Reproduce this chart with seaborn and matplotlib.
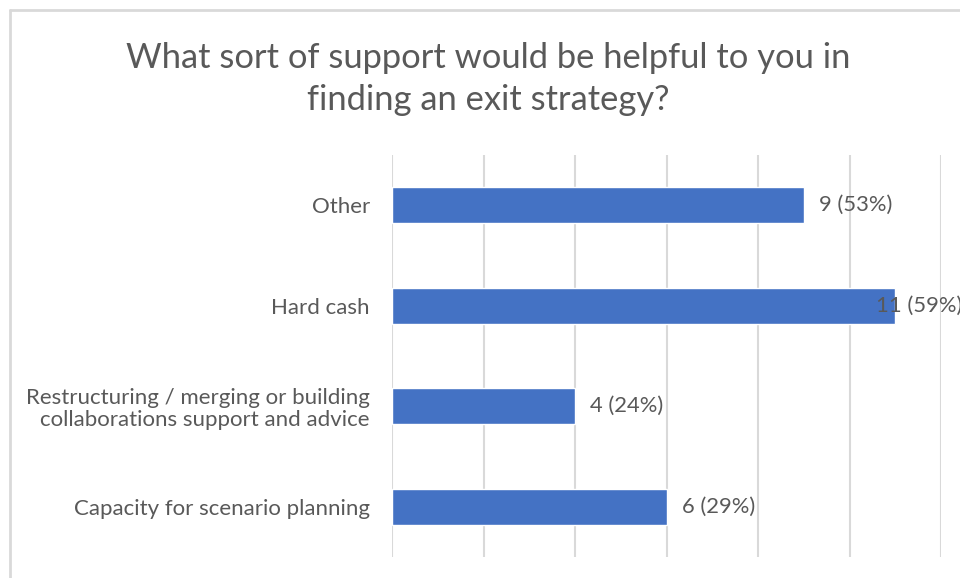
import matplotlib
matplotlib.use("Agg")
import matplotlib.pyplot as plt
from matplotlib.lines import Line2D
import seaborn as sns
import pandas as pd

categories = [
    "Other",
    "Hard cash",
    "Restructuring / merging or building\ncollaborations support and advice",
    "Capacity for scenario planning",
]
counts = [9, 11, 4, 6]
percents = [53, 59, 24, 29]
title = "What sort of support would be helpful to you in\nfinding an exit strategy?"

BAR = "#4472C4"
TEXT = "#595959"
GRID = "#D9D9D9"

sns.set_theme(style="white")
plt.rcParams["font.family"] = ["Lato", "DejaVu Sans"]

df = pd.DataFrame({"category": categories, "count": counts, "pct": percents})

W, H = 960, 578
fig = plt.figure(figsize=(W / 100, H / 100), dpi=100)
fig.patch.set_facecolor("white")

# plot area in pixel coordinates
left, right, top, bottom = 392, 941, 155, 557
ax = fig.add_axes([left / W, 1 - bottom / H, (right - left) / W, (bottom - top) / H])

sns.barplot(data=df, x="count", y="category", orient="h", color=BAR,
            width=0.36, saturation=1, ax=ax)

ax.set_xlim(0, 12)
ax.set_xticks(range(0, 13, 2))
ax.set_xticklabels([])
ax.xaxis.grid(True, color=GRID, linewidth=1.5)
ax.set_axisbelow(True)
for s in ax.spines.values():
    s.set_visible(False)
ax.set_xlabel("")
ax.set_ylabel("")
ax.tick_params(axis="both", length=0)
ax.tick_params(axis="y", pad=16, labelsize=16, labelcolor=TEXT)
for lbl in ax.get_yticklabels():
    lbl.set_horizontalalignment("right")
    lbl.set_multialignment("right")
    lbl.set_linespacing(1.1)

# value labels; the longest bar keeps its label overlapping the bar end
for i, (c, p) in enumerate(zip(counts, percents)):
    dx = 11 if c < 11 else -14
    ax.annotate(f"{c} ({p}%)", xy=(c, i), xytext=(dx, 0), textcoords="offset points",
                ha="left", va="center", fontsize=15.8, color=TEXT,
                annotation_clip=False)

fig.text(488 / W, 1 - 79 / H, title, ha="center", va="center",
         fontsize=24.8, color=TEXT, linespacing=1.4)

# chart frame edges
fig.add_artist(Line2D([10 / W, 10 / W], [0, 1 - 10 / H], transform=fig.transFigure,
                      color=GRID, linewidth=2))
fig.add_artist(Line2D([10 / W, 1], [1 - 10 / H, 1 - 10 / H], transform=fig.transFigure,
                      color=GRID, linewidth=2))

fig.savefig("out.png", dpi=100)
